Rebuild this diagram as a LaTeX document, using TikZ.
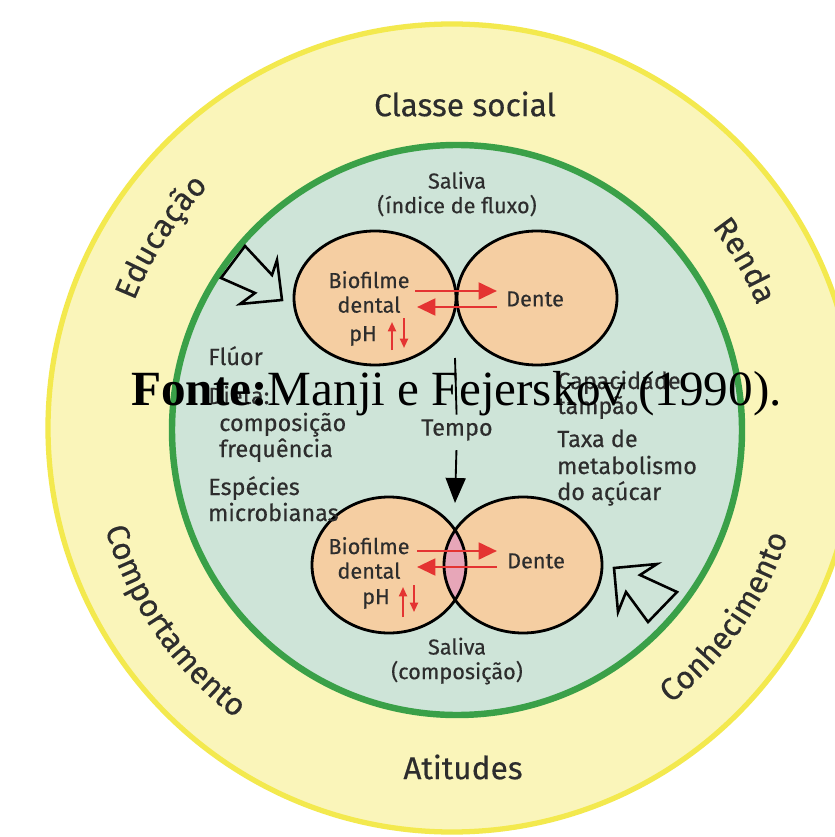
\documentclass[tikz,border=0pt]{standalone}
\usepackage{fontspec}
\setmainfont{Fira Sans}
\newfontfamily\fontediagrama{Fira Sans}[FakeBold=0.35]
\newfontfamily\fontefont{Liberation Serif}
\usetikzlibrary{arrows.meta,decorations.text}

\definecolor{amarelo}{RGB}{250,245,186}
\definecolor{amareloborda}{RGB}{243,233,78}
\definecolor{verde}{RGB}{58,160,72}
\definecolor{verdeclaro}{RGB}{206,228,216}
\definecolor{pele}{RGB}{245,206,162}
\definecolor{rosa}{RGB}{231,166,184}
\definecolor{vermelho}{RGB}{228,52,50}
\definecolor{texto}{RGB}{45,45,45}

\newcommand\fonteanel{\fontediagrama\fontsize{27}{30}\selectfont\color{texto}}

\tikzset{
  rotulo/.style={text=texto, font=\fontediagrama\fontsize{18.5}{21}\selectfont, align=center, inner sep=0pt},
  lista/.style={text=texto, font=\fontediagrama\fontsize{20}{22}\selectfont, anchor=base west, inner sep=0pt},
  externo/.style={text=texto, font=\fonteanel, inner sep=0pt},
  bolha/.style={draw=black, line width=2.4pt},
  seta/.style={vermelho, line width=2.5pt, -{Triangle[length=5.5mm,width=5mm]}},
  setaph/.style={vermelho, line width=1.6pt, -{Triangle[length=2.8mm,width=2.4mm]}},
  bloco/.style={draw=black, line width=2.2pt, line join=miter},
  anel/.style={decorate, decoration={text along path, text align=center, text={|\fonteanel|#1}}},
}

\begin{document}
\begin{tikzpicture}[x=0.3mm, y=-0.3mm]
  %%%%% FUNDO %%%%%
  \fill[white] (0,0) rectangle (834,837);
  \useasboundingbox (0,0) rectangle (834,837);
  \coordinate (centro) at (455,428);

  \draw[fill=amarelo, draw=amareloborda, line width=4.5pt] (452,428) circle (404);
  \draw[fill=verdeclaro, draw=verde, line width=5.5pt] (457,430) circle (285);

  %%%%% ANEL EXTERNO %%%%%
  \node[externo] (classe) at (465,104) {Classe social};
  \node[externo] (atitudes) at (463,767) {Atitudes};
  \path[anel=Educação] (centro) ++(-172:345) arc[start angle=-172, end angle=-122, radius=345];
  \path[anel=Renda] (centro) ++(-50:326) arc[start angle=-50, end angle=-10, radius=326];
  \path[anel=Comportamento] (centro) ++(-184.5:364) arc[start angle=-184.5, end angle=-244.5, radius=364];
  \path[anel=Conhecimento] (centro) ++(-295:350) arc[start angle=-295, end angle=-355, radius=350];

  %%%%% BOLHAS %%%%%
  \fill[pele] (375,298) ellipse [x radius=81, y radius=67];
  \fill[pele] (537,298) ellipse [x radius=80, y radius=67];
  \fill[pele] (389,565) ellipse [x radius=77, y radius=68];
  \fill[pele] (523,565) ellipse [x radius=79, y radius=68];
  \begin{scope}
    \clip (389,565) ellipse [x radius=77, y radius=68];
    \fill[rosa] (523,565) ellipse [x radius=79, y radius=68];
  \end{scope}
  \draw[bolha] (375,298) ellipse [x radius=81, y radius=67];
  \draw[bolha] (537,298) ellipse [x radius=80, y radius=67];
  \draw[bolha] (389,565) ellipse [x radius=77, y radius=68];
  \draw[bolha] (523,565) ellipse [x radius=79, y radius=68];

  %%%%% TEXTOS %%%%%
  \node[rotulo] (saliva1) at (457,194) {Saliva\\(índice de fluxo)};
  \node[rotulo] (saliva2) at (457,661) {Saliva\\(composição)};

  \node[rotulo] (biofilme1) at (369,292) {Biofilme\\dental};
  \node[rotulo] (ph1) at (363,336) {pH};
  \node[rotulo] (dente1) at (535,299) {Dente};
  \node[rotulo] (biofilme2) at (369,558) {Biofilme\\dental};
  \node[rotulo] (ph2) at (376,599) {pH};
  \node[rotulo] (dente2) at (536,561) {Dente};

  \node[lista] (fluor) at (208,365) {Flúor};
  \node[lista] (dieta) at (208,404) {Dieta:};
  \node[lista] (composicao) at (219,431) {composição};
  \node[lista] (frequencia) at (219,457) {frequência};
  \node[lista] (especies) at (208,495) {Espécies};
  \node[lista] (microbianas) at (208,521) {microbianas};

  \node[lista] (capacidade) at (557,389) {Capacidade};
  \node[lista] (tampao) at (557,414) {tampão};
  \node[lista] (taxa) at (557,447) {Taxa de};
  \node[lista] (metabolismo) at (557,474) {metabolismo};
  \node[lista] (acucar) at (557,500) {do açúcar};

  \node[rotulo, font=\fontediagrama\fontsize{20}{22}\selectfont, inner sep=4pt] (tempo) at (457,430) {Tempo};

  %%%%% SETAS %%%%%
  \coordinate (ida1a) at (415,291);  \coordinate (ida1b) at (497,291);
  \coordinate (volta1a) at (497,307); \coordinate (volta1b) at (417,307);
  \coordinate (ida2a) at (417,551);  \coordinate (ida2b) at (497,551);
  \coordinate (volta2a) at (497,567); \coordinate (volta2b) at (417,567);
  \draw[seta] (ida1a) -- (ida1b);
  \draw[seta] (volta1a) -- (volta1b);
  \draw[seta] (ida2a) -- (ida2b);
  \draw[seta] (volta2a) -- (volta2b);

  \draw[setaph] (392,350) -- (392,322);
  \draw[setaph] (404,318) -- (404,348);
  \draw[setaph] (403,617) -- (403,587);
  \draw[setaph] (414,585) -- (414,612);

  \coordinate (contato1) at (455,358);
  \coordinate (contato2) at (455,503);
  \draw[line width=1.6pt] (contato1) -- (tempo);
  \draw[line width=1.6pt, shorten <=4pt, -{Triangle[length=7.5mm,width=6mm]}] (tempo) -- (contato2);

  \draw[bloco] (245,246) -- (272,275) -- (277,260) -- (282,300) -- (240,304) -- (255,293) -- (221,278) -- cycle;
  \draw[bloco] (614,568) -- (657,564) -- (640,575) -- (677,592) -- (648,622) -- (626,592) -- (618,612) -- cycle;

  %%%%% FONTE %%%%%
  \node[anchor=base west, inner sep=0pt, font=\fontefont\fontsize{42}{46}\selectfont] (fonte) at (131,405) {\textbf{Fonte:}Manji e Fejerskov (1990).};
\end{tikzpicture}
\end{document}
